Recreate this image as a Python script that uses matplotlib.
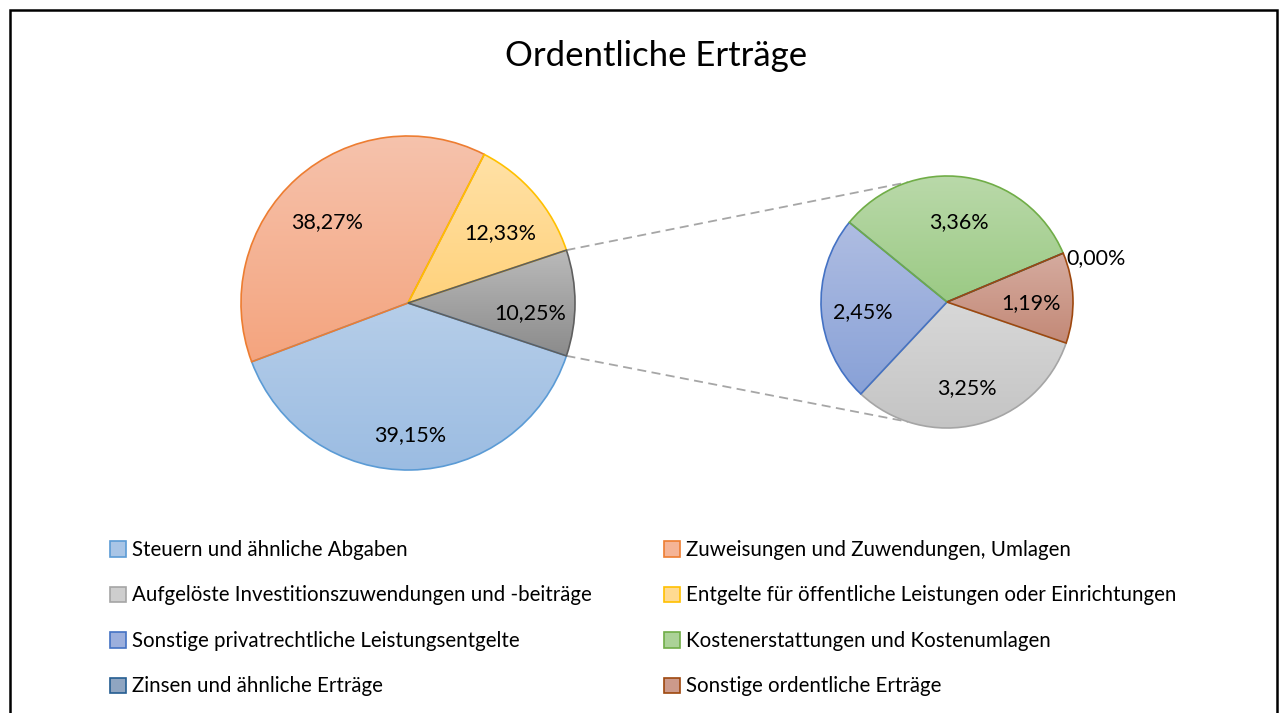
import numpy as np
import matplotlib.pyplot as plt
from matplotlib.patches import Patch, Rectangle
from matplotlib.colors import LinearSegmentedColormap

plt.rcParams['font.family'] = ['Lato', 'DejaVu Sans']

title = "Ordentliche Erträge"
categories = [
    "Steuern und ähnliche Abgaben",
    "Zuweisungen und Zuwendungen, Umlagen",
    "Aufgelöste Investitionszuwendungen und -beiträge",
    "Entgelte für öffentliche Leistungen oder Einrichtungen",
    "Sonstige privatrechtliche Leistungsentgelte",
    "Kostenerstattungen und Kostenumlagen",
    "Zinsen und ähnliche Erträge",
    "Sonstige ordentliche Erträge",
]
shares = [39.15, 38.27, 3.25, 12.33, 2.45, 3.36, 0.00, 1.19]

# which categories go into the big pie, the rest is collected in the small one
main_idx = [0, 1, 3]
sub_idx = [2, 4, 5, 6, 7]

# (top, bottom, edge) per category
colors = [
    ("#b6cee9", "#9bbce2", "#5b9bd5"),
    ("#f6c3ad", "#f4a47e", "#ed7d31"),
    ("#d8d8d8", "#c4c4c4", "#a5a5a5"),
    ("#ffe1a6", "#ffd27c", "#ffc000"),
    ("#afbde2", "#88a1d7", "#4472c4"),
    ("#bad9aa", "#9bca84", "#70ad47"),
    ("#9fb3cb", "#7f97b6", "#255e91"),
    ("#d5ab9f", "#c38977", "#9e480e"),
]
other_color = ("#bababa", "#8b8b8b", "#5f5f5f")


def pct(v):
    return f"{v:.2f}%".replace(".", ",")


W, H = 1287, 713
fig = plt.figure(figsize=(W / 100, H / 100), dpi=100)
ax = fig.add_axes([0, 0, 1, 1])

main_vals = [shares[i] for i in main_idx] + [sum(shares[i] for i in sub_idx)]
main_cols = [colors[i] for i in main_idx] + [other_color]
sub_vals = [shares[i] for i in sub_idx]
sub_cols = [colors[i] for i in sub_idx]

main_c, main_r = (408, H - 303), 167
sub_c, sub_r = (947, H - 302), 126

# "other" slice sits centred on the right-hand side
main_start = -main_vals[-1] / sum(main_vals) * 180
sub_start = -19

main_w, _ = ax.pie(main_vals, center=main_c, radius=main_r, startangle=main_start,
                   counterclock=False, wedgeprops=dict(linewidth=1.2))
sub_w, _ = ax.pie(sub_vals, center=sub_c, radius=sub_r, startangle=sub_start,
                  counterclock=False, wedgeprops=dict(linewidth=1.2))


def fill_wedge(w, top, bottom, edge):
    w.set_edgecolor(edge)
    w.set_facecolor("none")
    w.set_zorder(3)
    if abs(w.theta2 - w.theta1) < 1e-6:
        return
    v = w.get_patch_transform().transform(w.get_path().vertices)
    cmap = LinearSegmentedColormap.from_list("g", [bottom, top])
    grad = np.linspace(0, 1, 256).reshape(-1, 1)
    im = ax.imshow(grad, extent=[v[:, 0].min(), v[:, 0].max(), v[:, 1].min(), v[:, 1].max()],
                   origin="lower", cmap=cmap, aspect="auto", interpolation="bilinear", zorder=2)
    im.set_clip_path(w)


def put_label(w, c, r, dist, val, dy=0, ha="center"):
    ang = np.deg2rad((w.theta1 + w.theta2) / 2)
    ax.text(c[0] + np.cos(ang) * r * dist, c[1] + np.sin(ang) * r * dist - dy, pct(val),
            fontsize=15.5, ha=ha, va="center", zorder=5)


for w, col, val in zip(main_w, main_cols, main_vals):
    fill_wedge(w, *col)
    put_label(w, main_c, main_r, 0.73, val, dy=10)

for w, col, val in zip(sub_w, sub_cols, sub_vals):
    fill_wedge(w, *col)
    if val == 0:
        put_label(w, sub_c, sub_r, 1.03, val, dy=6, ha="left")
    else:
        put_label(w, sub_c, sub_r, 0.67, val, dy=4)

# dashed connectors between the "other" slice and the small pie
other = main_w[-1]
for a_main, a_sub in [(other.theta2, 108), (other.theta1, -108)]:
    x0 = main_c[0] + main_r * np.cos(np.deg2rad(a_main))
    y0 = main_c[1] + main_r * np.sin(np.deg2rad(a_main))
    x1 = sub_c[0] + sub_r * np.cos(np.deg2rad(a_sub))
    y1 = sub_c[1] + sub_r * np.sin(np.deg2rad(a_sub))
    ax.plot([x0, x1], [y0, y1], color="#a6a6a6", lw=1.3, ls=(0, (5, 3)), zorder=1)

ax.text(656, H - 56, title, fontsize=25, ha="center", va="center")

# chart frame
ax.add_patch(Rectangle((10, -20), 1267, H - 10 + 20, fill=False, ec="black", lw=1.8, zorder=0))

ax.set_xlim(0, W)
ax.set_ylim(0, H)
ax.set_aspect("auto")
ax.axis("off")

handles = [Patch(facecolor=LinearSegmentedColormap.from_list("m", [c[1], c[0]])(0.5),
                 edgecolor=c[2], lw=1.2) for c in colors]
order = [0, 2, 4, 6, 1, 3, 5, 7]
fig.legend([handles[i] for i in order], [categories[i] for i in order], ncol=2,
           loc="upper left", bbox_to_anchor=(110 / W, 1 - 540 / H), frameon=False,
           fontsize=14.8, handlelength=0.78, handleheight=0.78, handletextpad=0.3,
           labelspacing=1.24, columnspacing=3.5, borderpad=0, borderaxespad=0)

fig.savefig("out.png", dpi=100, facecolor="white")
